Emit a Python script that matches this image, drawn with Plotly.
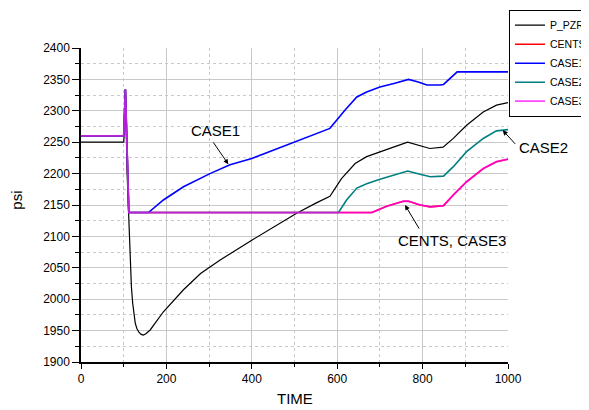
import plotly.graph_objects as go

# ---------------- data ----------------
t_pzr = [0, 100, 101, 104, 108, 111, 113, 115, 118, 121, 124, 127, 131, 136, 141, 146,
         152, 162, 193, 240, 280, 325, 400, 450, 505, 550, 583, 610, 642, 669, 700, 735,
         765, 794, 817, 848, 872, 903, 942, 973, 1000]
p_pzr = [2250, 2250, 2260, 2334, 2200, 2137, 2100, 2057, 2020, 1994, 1975, 1962, 1953,
         1947, 1944, 1943, 1945, 1951, 1980, 2015, 2041, 2062, 2094, 2115, 2137, 2153,
         2164, 2192, 2216, 2227, 2235, 2243, 2250, 2244, 2240, 2242, 2256, 2277, 2298,
         2309, 2313]

t_cents = [0, 100, 104, 112, 681, 716, 755, 767, 794, 818, 849, 872, 903, 942, 973, 1000]
p_cents = [2260, 2260, 2334, 2138, 2138, 2148, 2156, 2156, 2150, 2147, 2149, 2166, 2187,
           2208, 2219, 2223]

t_case1 = [0, 100, 104, 112, 158, 193, 240, 302, 349, 400, 450, 500, 550, 583, 618, 646,
           669, 700, 735, 767, 790, 810, 841, 849, 881, 1000]
p_case1 = [2260, 2260, 2334, 2138, 2138, 2158, 2179, 2200, 2214, 2224, 2237, 2250, 2263,
           2272, 2301, 2322, 2330, 2338, 2344, 2350, 2346, 2341, 2341, 2342, 2362, 2362]

t_case2 = [0, 100, 104, 112, 603, 622, 646, 669, 700, 735, 765, 794, 818, 849, 872, 903,
           942, 973, 1000]
p_case2 = [2260, 2260, 2334, 2138, 2138, 2158, 2177, 2184, 2191, 2198, 2204, 2199, 2195,
           2196, 2211, 2235, 2256, 2268, 2270]

t_case3 = [0, 100, 104, 112, 681, 716, 755, 767, 794, 818, 849, 872, 903, 942, 973, 1000]
p_case3 = [2260, 2260, 2334, 2138, 2138, 2148, 2156, 2156, 2150, 2147, 2149, 2166, 2187,
           2208, 2219, 2223]

x_ticks = [0, 200, 400, 600, 800, 1000]
y_ticks = [1900, 1950, 2000, 2050, 2100, 2150, 2200, 2250, 2300, 2350, 2400]

FONT = "Arial, Liberation Sans, sans-serif"

fig = go.Figure()
fig.add_trace(go.Scatter(x=t_pzr, y=p_pzr, mode="lines", name="P_PZR",
                         line=dict(color="black", width=1.2)))
fig.add_trace(go.Scatter(x=t_cents, y=p_cents, mode="lines", name="CENTS",
                         line=dict(color="#ff0000", width=1.6)))
fig.add_trace(go.Scatter(x=t_case1, y=p_case1, mode="lines", name="CASE1",
                         line=dict(color="#0000ff", width=1.6)))
fig.add_trace(go.Scatter(x=t_case2, y=p_case2, mode="lines", name="CASE2",
                         line=dict(color="#008080", width=1.6)))
fig.add_trace(go.Scatter(x=t_case3, y=p_case3, mode="lines", name="CASE3",
                         line=dict(color="#ff00ff", width=1.8), opacity=0.72))

grid = "#c8c8c8"
common = dict(showline=True, linecolor="black", linewidth=1.5, zeroline=False,
              ticks="outside", tickcolor="black", tickwidth=1,
              showgrid=True, gridcolor=grid, gridwidth=1,
              tickfont=dict(family=FONT, size=12, color="black"))

fig.update_xaxes(range=[0, 1000], tickvals=x_ticks, ticklen=5,
                 minor=dict(dtick=100, tick0=0, ticks="outside", ticklen=3, tickcolor="black",
                            showgrid=True, gridcolor=grid, griddash="dot"),
                 **common)
fig.update_yaxes(range=[1900, 2400], tickvals=y_ticks, ticklen=7,
                 minor=dict(dtick=25, tick0=1900, ticks="outside", ticklen=4, tickcolor="black",
                            showgrid=True, gridcolor=grid, griddash="dot"),
                 **common)

lab = dict(family=FONT, size=15, color="black")
ann = [
    # axis titles
    dict(text="psi", xref="paper", yref="paper", x=-0.1506, y=0.516, showarrow=False,
         xanchor="center", yanchor="middle", textangle=-90, font=lab),
    dict(text="TIME", xref="paper", yref="paper", x=0.501, y=-0.150, showarrow=False,
         xanchor="center", yanchor="bottom", font=lab),
    # labels
    dict(text="CASE1", x=316, y=2268, xref="x", yref="y", showarrow=False,
         xanchor="center", yanchor="middle", font=lab),
    dict(text="CASE2", x=1.0827, y=0.683, xref="paper", yref="paper", showarrow=False,
         xanchor="center", yanchor="middle", font=lab),
    dict(text="CENTS, CASE3", x=870, y=2094, xref="x", yref="y", showarrow=False,
         xanchor="center", yanchor="middle", font=lab),
    # arrows
    dict(text="", x=345, y=2215, ax=307.5, ay=2252, xref="x", yref="y", axref="x", ayref="y",
         showarrow=True, arrowhead=2, arrowsize=1, arrowwidth=1, arrowcolor="black"),
    dict(text="", x=987.6, y=2269, ax=1020, ay=2245, xref="x", yref="y", axref="x", ayref="y",
         showarrow=True, arrowhead=2, arrowsize=1, arrowwidth=1, arrowcolor="black"),
    dict(text="", x=758.8, y=2150, ax=794, ay=2110, xref="x", yref="y", axref="x", ayref="y",
         showarrow=True, arrowhead=2, arrowsize=1, arrowwidth=1, arrowcolor="black"),
]

# the page body adds an 8px offset, so the figure is 8px smaller and margins shifted
fig.update_layout(
    width=581, height=402,
    margin=dict(l=73, r=81, t=40, b=48, autoexpand=False),
    paper_bgcolor="white", plot_bgcolor="white",
    font=dict(family=FONT, size=12, color="black"),
    showlegend=True,
    legend=dict(x=1.0023, y=1.122, xanchor="left", yanchor="top",
                bgcolor="white", bordercolor="black", borderwidth=1,
                font=dict(family=FONT, size=10.5, color="black"),
                itemwidth=30, tracegroupgap=0),
    annotations=ann,
)

fig.write_html("out.html")
